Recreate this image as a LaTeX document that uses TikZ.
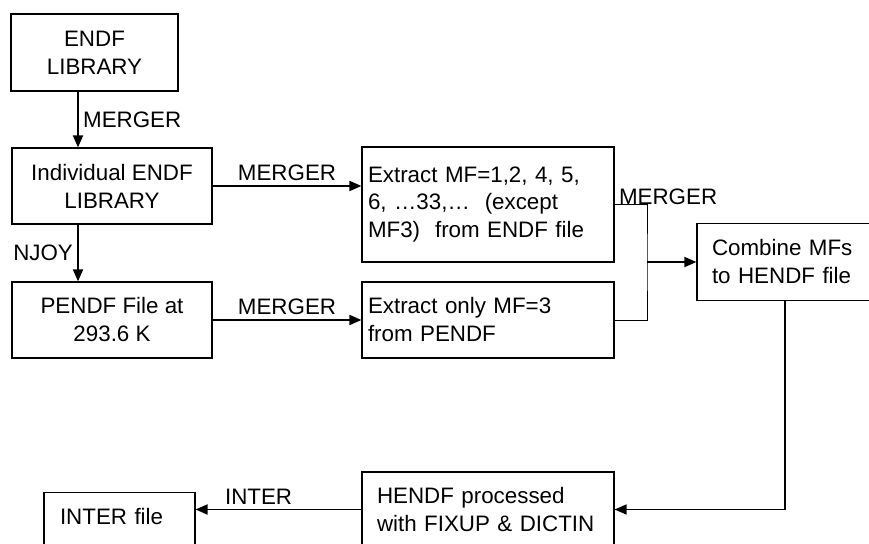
\documentclass[tikz,border=0pt]{standalone}
\usepackage{fontspec}
\setmainfont{Liberation Sans}
\usepackage{tikz}
\usetikzlibrary{arrows.meta,positioning,calc}

\tikzset{
  boite/.style={draw,line width=0.8pt,inner sep=0pt,align=center,minimum height=1.9cm},
  boitegauche/.style={draw,line width=0.8pt,inner ysep=0pt,inner xsep=#1,align=left},
  fleche/.style={line width=1.3pt,-{Triangle[length=0.3cm,width=0.25cm]}},
  trait/.style={line width=0.7pt},
  etiquette/.style={inner sep=3pt}
}

\begin{document}
\begin{tikzpicture}[font=\fontsize{15.9pt}{19.9pt}\selectfont]
\useasboundingbox (0,0) rectangle (21.725,13.6);
\coordinate (axe) at (1.95,0);
% colonne de gauche
\node[boite,minimum width=4.175cm,minimum height=1.925cm] (endf) at (2.3625,12.2875) {ENDF\\LIBRARY};
\node[boite,minimum width=5cm] (indiv) at (2.8,8.95) {Individual ENDF\\LIBRARY};
\node[boite,minimum width=5cm] (pendf) at (2.8,5.6) {PENDF File at\\293.6 K};
% extraction des MF
\node[boitegauche=0.15cm,text width=6cm,minimum height=2.875cm] (extA) at (12.2,8.4875)
  {Extract MF=1,2, 4, 5,\\6, …33,…\ \ (except\\MF3)\ \ from ENDF file};
\node[boitegauche=0.15cm,text width=6cm,minimum height=1.9cm] (extB) at (12.2,5.6)
  {Extract only MF=3\\from PENDF};
\node[boitegauche=0.375cm,text width=3.65cm,minimum height=1.925cm] (comb) at (19.625,7.05)
  {Combine MFs\\to HENDF file};
% sortie
\node[boitegauche=0.375cm,text width=5.55cm,minimum height=1.875cm] (hendf) at (12.2,0.8625)
  {HENDF processed\\with FIXUP \& DICTIN};
\node[boitegauche=0.4cm,inner ysep=0.35cm,text width=2.975cm,text height=0.45cm,text depth=1.2cm,anchor=north] (inter) at (2.9875,1.3)
  {INTER file};

\draw[fleche] (endf.south -| axe) -- node[etiquette,right] (mg1) {MERGER} (indiv.north -| axe);
\draw[fleche] (indiv.south -| axe) -- node[etiquette,left] (nj) {NJOY} (pendf.north -| axe);
\draw[fleche] (indiv.east) -- node[etiquette,above] (mg2) {MERGER} (indiv.east -| extA.west);
\draw[fleche] (pendf.east) -- node[etiquette,above] (mg3) {MERGER} (pendf.east -| extB.west);
% jonction vers HENDF
\coordinate (jonc) at (16.175,7.05);
\draw[trait] (extA.east) -| (jonc) |- (extB.east);
\draw[fleche] (jonc) -- (comb.west);
\node[etiquette,anchor=base west] (mg4) at (extA.east) {MERGER};
\draw[fleche,line width=1pt] (comb.south) |- (hendf.east);
\draw[fleche] (hendf.west) -- node[etiquette,above,pos=0.62] (it) {INTER} (hendf.west -| inter.east);
\end{tikzpicture}
\end{document}
